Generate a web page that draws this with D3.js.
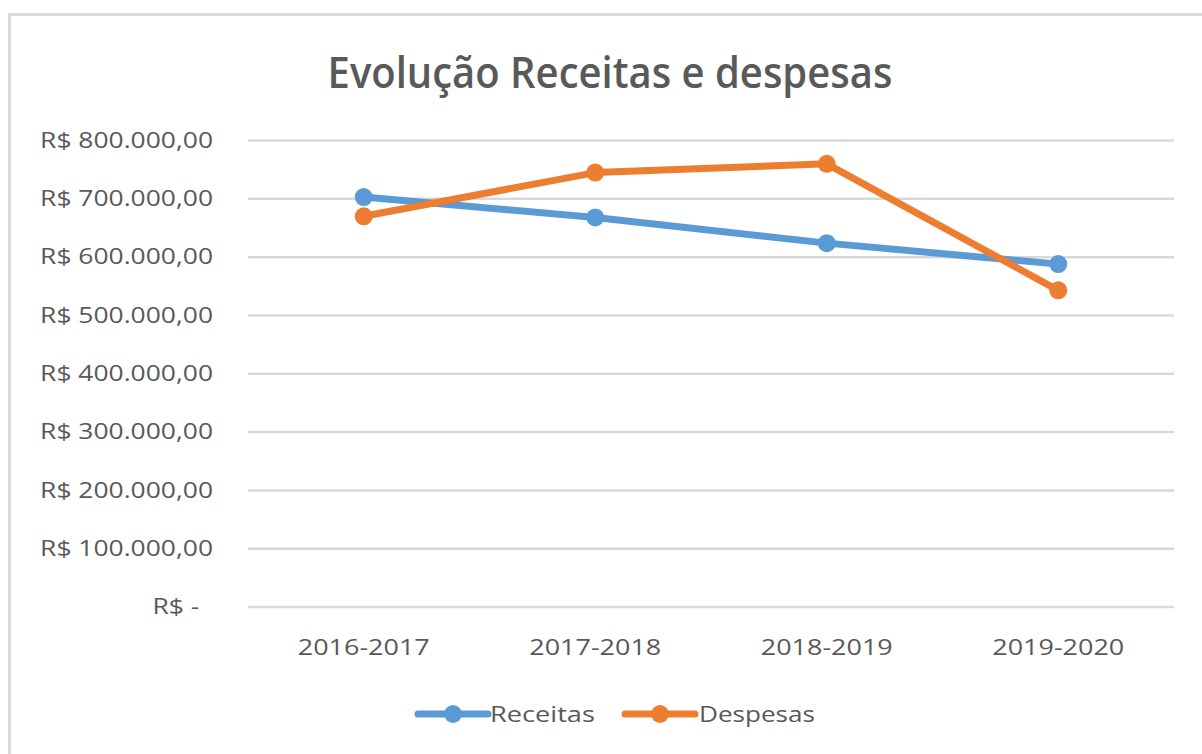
<!DOCTYPE html>
<html>
<head>
<meta charset="utf-8">
<script src="https://cdn.jsdelivr.net/npm/d3@7"></script>
<style>
  html, body { margin: 0; padding: 0; background: #ffffff; }
  svg { display: block; }
  text { font-family: "Open Sans", "Noto Sans", sans-serif; fill: #595959; }
</style>
</head>
<body>
<svg id="chart" width="1202" height="754"></svg>
<script>
const categories = ["2016-2017", "2017-2018", "2018-2019", "2019-2020"];
const receitas = [703000, 668000, 624000, 588000];
const despesas = [670000, 745000, 760000, 543000];
const yTickValues = [0, 100000, 200000, 300000, 400000, 500000, 600000, 700000, 800000];
const seriesNames = ["Receitas", "Despesas"];
const seriesColors = ["#5B9BD5", "#ED7D31"];
const titleText = "Evolução Receitas e despesas";

const svg = d3.select("#chart");

// outer chart border (continues beyond the picture)
svg.append("rect")
  .attr("x", 9.5).attr("y", 14.5)
  .attr("width", 1400).attr("height", 1000)
  .attr("fill", "#ffffff")
  .attr("stroke", "#d9d9d9").attr("stroke-width", 3);

const plot = { left: 248, right: 1174, top: 140.5, bottom: 607 };

const x = d3.scaleBand().domain(categories).range([plot.left, plot.right]);
const y = d3.scaleLinear().domain([0, 800000]).range([plot.bottom, plot.top]);

const br = d3.formatLocale({ decimal: ",", thousands: ".", grouping: [3], currency: ["R$ ", ""] });
const money = br.format(",.2f");
const tickFmt = d => d === 0 ? "R$ -\u00a0\u00a0" : "R$ " + money(d);

// stretch helper: scale text horizontally around its anchor
function stretch(sel, sx) {
  sel.each(function () {
    const t = d3.select(this);
    const tx = +t.attr("x") || 0;
    const ty = +t.attr("y") || 0;
    t.attr("x", 0).attr("y", 0)
     .attr("transform", `translate(${tx},${ty}) scale(${sx},1)`);
  });
}

// gridlines
svg.append("g")
  .selectAll("line")
  .data(yTickValues)
  .join("line")
  .attr("x1", plot.left).attr("x2", plot.right)
  .attr("y1", d => y(d)).attr("y2", d => y(d))
  .attr("stroke", "#d9d9d9").attr("stroke-width", 2.5);

// y axis
const yAxis = svg.append("g")
  .attr("transform", `translate(${plot.left},0)`)
  .call(d3.axisLeft(y).tickValues(yTickValues).tickFormat(tickFmt).tickSize(0).tickPadding(35));
yAxis.select(".domain").remove();
yAxis.selectAll("text")
  .style("font-family", "'Open Sans', sans-serif")
  .style("font-size", "21px").attr("fill", "#595959");
{
  const ref = yAxis.selectAll("text").filter(d => d === 800000).node();
  const w = ref.getComputedTextLength();
  stretch(yAxis.selectAll("text"), 173 / w);
}

// x axis
const xAxis = svg.append("g")
  .attr("transform", `translate(0,${plot.bottom})`)
  .call(d3.axisBottom(x).tickSize(0).tickPadding(33));
xAxis.select(".domain").remove();
xAxis.selectAll("text")
  .style("font-family", "'Open Sans', sans-serif")
  .style("font-size", "21px").attr("fill", "#595959");
{
  const w = xAxis.select("text").node().getComputedTextLength();
  xAxis.selectAll("text").each(function () {
    const t = d3.select(this);
    t.attr("dy", null);
    t.attr("y", +t.attr("y") + 0.71 * 21);
  });
  stretch(xAxis.selectAll("text"), 132 / w);
}

// lines and markers
const seriesData = [receitas, despesas];
const line = d3.line().x((d, i) => x(categories[i]) + x.bandwidth() / 2).y(d => y(d));

seriesData.forEach((vals, si) => {
  const g = svg.append("g");
  g.append("path")
    .datum(vals)
    .attr("d", line)
    .attr("fill", "none")
    .attr("stroke", seriesColors[si])
    .attr("stroke-width", 7)
    .attr("stroke-linejoin", "round")
    .attr("stroke-linecap", "round");
  g.selectAll("circle")
    .data(vals)
    .join("circle")
    .attr("cx", (d, i) => x(categories[i]) + x.bandwidth() / 2)
    .attr("cy", d => y(d))
    .attr("r", 9)
    .attr("fill", seriesColors[si]);
});

// title
const title = svg.append("text")
  .attr("x", 610).attr("y", 88)
  .attr("text-anchor", "middle")
  .style("font-family", "'Open Sans', sans-serif")
  .style("font-weight", 600)
  .style("font-size", "43px")
  .attr("fill", "#595959")
  .text(titleText);
{
  const w = title.node().getComputedTextLength();
  stretch(title, 565 / w);
}

// legend
const legendItems = [
  { name: seriesNames[0], color: seriesColors[0], x0: 418, x1: 488, textX: 490, target: 105 },
  { name: seriesNames[1], color: seriesColors[1], x0: 625, x1: 695, textX: 699, target: 116 }
];
const legendY = 714;
const lg = svg.append("g");
legendItems.forEach(it => {
  lg.append("line")
    .attr("x1", it.x0).attr("x2", it.x1)
    .attr("y1", legendY).attr("y2", legendY)
    .attr("stroke", it.color).attr("stroke-width", 7).attr("stroke-linecap", "round");
  lg.append("circle")
    .attr("cx", (it.x0 + it.x1) / 2).attr("cy", legendY).attr("r", 9)
    .attr("fill", it.color);
  const t = lg.append("text")
    .attr("x", it.textX).attr("y", legendY + 8)
    .style("font-family", "'Open Sans', sans-serif")
    .style("font-size", "22px")
    .attr("fill", "#595959")
    .text(it.name);
  const w = t.node().getComputedTextLength();
  stretch(t, it.target / w);
});
</script>
</body>
</html>
